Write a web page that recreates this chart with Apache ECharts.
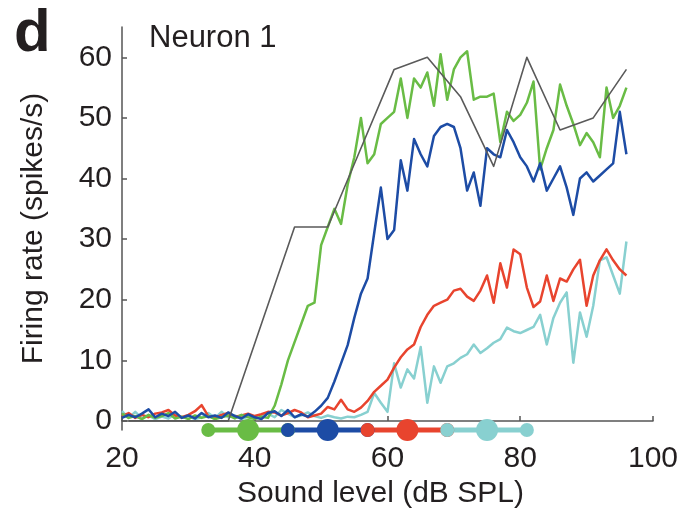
<!DOCTYPE html>
<html>
<head>
<meta charset="utf-8">
<script src="https://cdn.jsdelivr.net/npm/echarts@6/dist/echarts.min.js"></script>
<style>
  html, body { margin: 0; padding: 0; background: #ffffff; }
  #chart { width: 681px; height: 517px; }
</style>
</head>
<body>
<div id="chart"></div>
<script>
// Sound levels (dB SPL) at which firing rate was measured
const levels = [
  20, 21, 22, 23, 24, 25, 26, 27, 28, 29,
  30, 31, 32, 33, 34, 35, 36, 37, 38, 39,
  40, 41, 42, 43, 44, 45, 46, 47, 48, 49,
  50, 51, 52, 53, 54, 55, 56, 57, 58, 59,
  60, 61, 62, 63, 64, 65, 66, 67, 68, 69,
  70, 71, 72, 73, 74, 75, 76, 77, 78, 79,
  80, 81, 82, 83, 84, 85, 86, 87, 88, 89,
  90, 91, 92, 93, 94, 95, 96
];

// Firing rate (spikes/s) per condition
const rateGreen = [
  1.2, 0.5, 0.8, 0.3, 1.0, 0.5, 0.8, 1.3, 0.4, 0.7,
  0.3, 0.9, 0.5, 0.8, 0.3, 0.6, 0.9, 0.4, 1.0, 0.6,
  0.3, 0.7, 0.5, 2.5, 6.0, 10.0, 13.0, 16.0, 19.0, 19.5,
  29.0, 32.0, 35.0, 32.5, 39.0, 43.5, 50.0, 42.5, 44.0, 49.0,
  50.0, 51.0, 56.5, 50.0, 56.5, 55.0, 57.5, 52.0, 60.5, 53.0,
  58.0, 60.0, 61.0, 53.0, 53.5, 53.5, 54.0, 46.0, 51.0, 49.5,
  50.5, 52.5, 56.0, 41.5, 45.0, 48.0, 55.5, 52.0, 49.0, 45.5,
  47.5, 46.0, 43.5, 55.0, 50.0, 52.0, 55.0
];
const rateBlue = [
  0.5, 1.0, 0.6, 1.2, 1.9, 0.6, 1.2, 0.8, 1.5, 0.5,
  0.9, 0.4, 1.3, 0.6, 0.9, 0.5, 1.4, 0.8, 0.4, 1.1,
  0.6, 0.3, 1.3, 1.6, 0.8, 1.8, 0.6, 1.1, 0.7, 1.5,
  2.5, 3.8, 6.5, 9.5, 12.5, 17.0, 21.0, 23.5, 31.0, 38.5,
  30.0, 31.5, 43.0, 38.0, 46.5, 44.0, 42.0, 47.0, 48.5, 49.0,
  48.5, 45.0, 38.0, 41.0, 35.5, 45.0, 44.0, 43.5, 48.0, 46.0,
  43.5, 42.0, 39.5, 42.5, 38.0, 40.0, 42.0, 38.5, 34.0, 40.0,
  41.0, 39.5, 40.5, 41.5, 42.5, 51.0, 44.0
];
const rateRed = [
  0.8, 1.3, 0.5, 1.0, 0.6, 1.2, 1.4, 1.8, 0.9, 0.6,
  1.0, 1.6, 2.6, 0.8, 0.5, 1.0, 1.3, 0.7, 0.9, 1.2,
  0.8, 1.1, 1.5, 1.4, 0.9, 1.3, 1.8, 1.4, 0.6, 0.9,
  1.2, 2.3, 1.9, 3.5, 1.9, 1.5, 2.2, 3.3, 4.8, 5.8,
  6.8, 8.8, 10.5, 11.8, 12.6, 15.5, 17.5, 19.0, 19.5, 20.0,
  21.5, 21.8, 20.5, 19.8, 21.5, 24.0, 19.5, 26.0, 22.0, 28.3,
  27.5, 22.0, 18.8, 19.7, 24.0, 19.8, 23.5, 23.0, 25.0, 26.6,
  19.0, 24.0, 26.5, 28.3, 26.5, 25.0, 24.0
];
const rateCyan = [
  1.6, 0.5, 1.5, 0.4, 0.9, 0.3, 0.7, 0.4, 1.1, 0.5,
  0.8, 0.3, 0.6, 1.3, 0.5, 1.5, 0.6, 0.9, 0.3, 0.7,
  0.5, 0.9, 1.2, 0.6, 1.8, 1.2, 0.6, 0.9, 1.4, 0.8,
  0.5, 0.9, 0.6, 0.4, 0.7, 0.6, 1.0, 1.5, 4.6, 3.0,
  1.5, 9.5, 5.5, 8.5, 7.0, 12.2, 3.0, 9.0, 6.3, 9.0,
  9.5, 10.4, 11.0, 12.6, 11.2, 12.0, 12.9, 13.5, 15.4, 14.8,
  14.5, 15.0, 15.5, 17.5, 12.6, 17.0, 19.5, 21.2, 9.6, 17.9,
  13.9, 19.0, 26.5, 27.0, 24.0, 21.0, 29.6
];

// Coarser reference curve (gray)
const grayLevels = [21, 26, 31, 36, 41, 46, 51, 56, 61, 66, 71, 76, 81, 86, 91, 96];
const grayRate   = [0, 0, 0, 0, 16, 32, 32, 45, 58, 60, 53.5, 42, 60, 48, 50, 58];

// Level markers along the abscissa for each condition (small, large, small)
const markGreen = [33, 39, 45];
const markBlue  = [45, 51, 57];
const markRed   = [57, 63, 69];
const markCyan  = [69, 75, 81];

// Axis ticks
const xTicks = [20, 40, 60, 80, 100];
const yTicks = [0, 10, 20, 30, 40, 50, 60];
const Y_MIN = -1.5;
const Y_MAX = 65;

const COLORS = {
  green: '#69bc45',
  blue: '#1d4ca5',
  red: '#e8442e',
  cyan: '#88d0d0',
  gray: '#5a5a5a'
};
const FONT = "'Liberation Sans', Arial, Helvetica, sans-serif";
const TEXT = '#231f20';

function pairs(xs, ys) {
  return xs.map((x, i) => [x, ys[i]]);
}

function rateLine(name, xs, ys, color, width) {
  return {
    name: name,
    type: 'line',
    data: pairs(xs, ys),
    showSymbol: false,
    symbol: 'none',
    lineStyle: { color: color, width: width, join: 'round' },
    itemStyle: { color: color },
    animation: false
  };
}

function markerLine(name, xs, color) {
  return {
    name: name,
    type: 'line',
    data: xs.map(x => [x, Y_MIN]),
    symbol: 'circle',
    symbolSize: (v, p) => (p.dataIndex === 1 ? 22 : 14),
    showAllSymbol: true,
    clip: false,
    z: 5,
    lineStyle: { color: color, width: 5 },
    itemStyle: { color: color },
    animation: false
  };
}

const chart = echarts.init(document.getElementById('chart'), null, { renderer: 'canvas' });

chart.setOption({
  backgroundColor: '#ffffff',
  animation: false,
  grid: { left: 122, right: 27, top: 27, bottom: 87, containLabel: false },
  xAxis: {
    type: 'value',
    min: 20,
    max: 100,
    interval: 20,
    name: 'Sound level (dB SPL)',
    nameLocation: 'middle',
    nameGap: 48,
    nameTextStyle: { fontFamily: FONT, fontSize: 30, color: TEXT, padding: [0, 14, 0, 0] },
    axisLine: { show: true, lineStyle: { color: '#555555', width: 1.5 } },
    axisTick: { show: true, inside: true, length: 5, lineStyle: { color: '#555555', width: 1.5 } },
    axisLabel: {
      customValues: xTicks,
      margin: 14,
      fontFamily: FONT, fontSize: 30, color: TEXT
    },
    splitLine: { show: false }
  },
  yAxis: {
    type: 'value',
    min: Y_MIN,
    max: Y_MAX,
    name: 'Firing rate (spikes/s)',
    nameLocation: 'middle',
    nameGap: 73,
    nameTextStyle: { fontFamily: FONT, fontSize: 30, color: TEXT },
    axisLine: { show: true, lineStyle: { color: '#555555', width: 1.5 } },
    axisTick: { show: true, inside: true, length: 5, customValues: yTicks, lineStyle: { color: '#555555', width: 1.5 } },
    axisLabel: {
      customValues: yTicks,
      margin: 10,
      fontFamily: FONT, fontSize: 30, color: TEXT
    },
    splitLine: { show: false }
  },
  graphic: [
    {
      type: 'text', left: 14, top: 4,
      style: { text: 'd', font: "bold 60px 'Liberation Sans', Arial, sans-serif", fill: TEXT }
    },
    {
      type: 'text', left: 149, top: 23,
      style: { text: 'Neuron 1', font: "31px 'Liberation Sans', Arial, sans-serif", fill: TEXT }
    }
  ],
  series: [
    rateLine('cyan', levels, rateCyan, COLORS.cyan, 2.5),
    rateLine('red', levels, rateRed, COLORS.red, 2.5),
    rateLine('green', levels, rateGreen, COLORS.green, 2.5),
    rateLine('blue', levels, rateBlue, COLORS.blue, 2.5),
    rateLine('gray', grayLevels, grayRate, COLORS.gray, 1.6),
    markerLine('green levels', markGreen, COLORS.green),
    markerLine('blue levels', markBlue, COLORS.blue),
    markerLine('red levels', markRed, COLORS.red),
    markerLine('cyan levels', markCyan, COLORS.cyan)
  ]
});
</script>
</body>
</html>
